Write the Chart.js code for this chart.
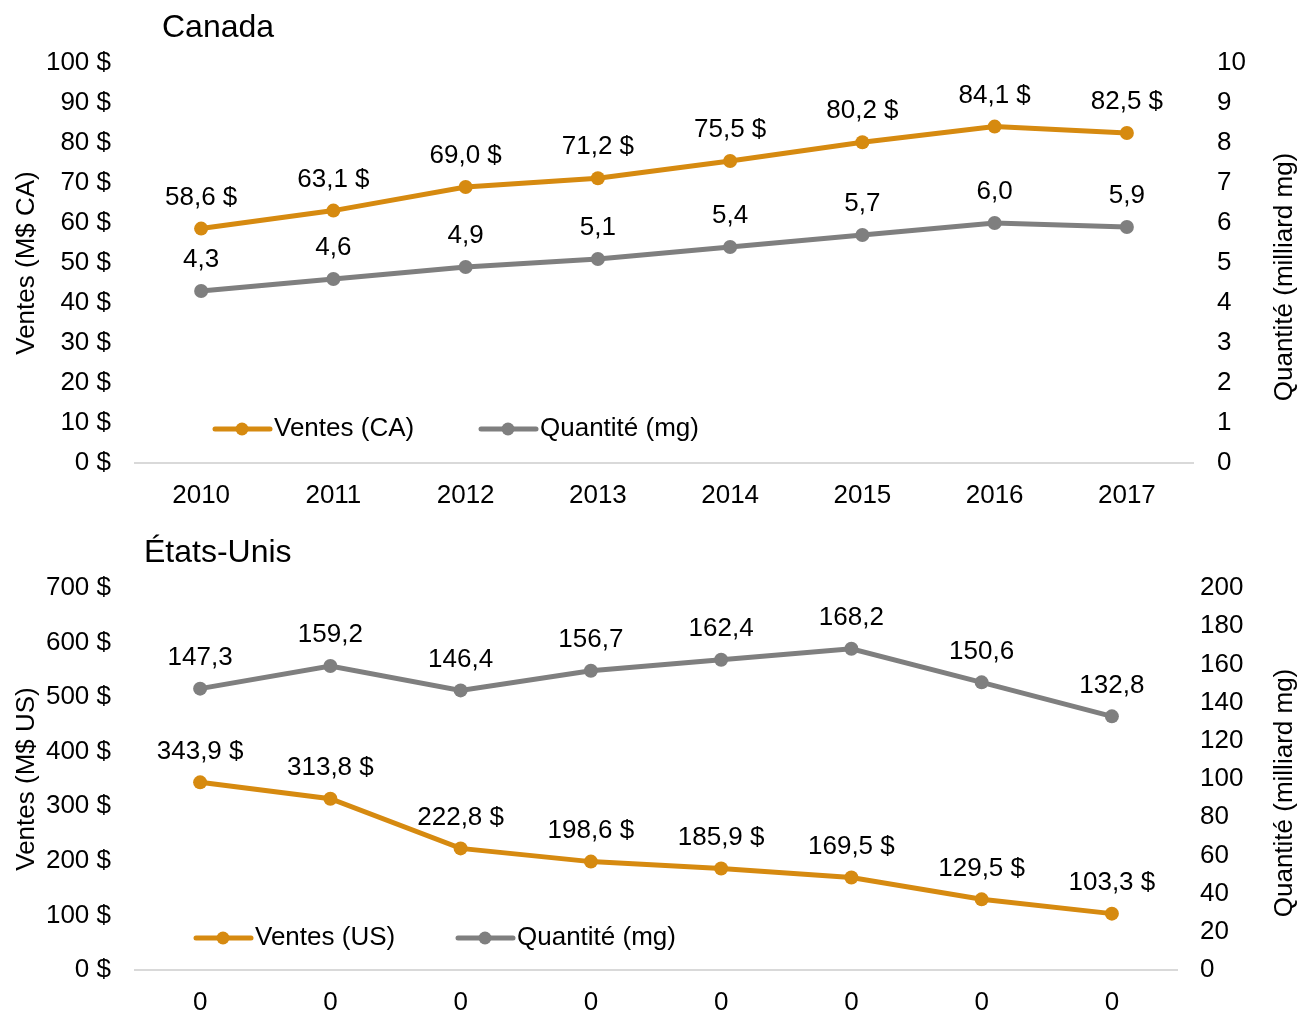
<!DOCTYPE html>
<html><head><meta charset="utf-8">
<script src="https://cdn.jsdelivr.net/npm/chart.js@4.4.0/dist/chart.umd.min.js"></script>
<style>
html,body{margin:0;padding:0;background:#fff;overflow:hidden;}
#top{position:absolute;left:0;top:0;width:1301px;height:520px;}
#bot{position:absolute;left:0;top:520px;width:1301px;height:494px;}
</style></head><body>
<div id="top"><canvas id="c1"></canvas></div>
<div id="bot"><canvas id="c2"></canvas></div>
<script>
// ---- data ----
const years = ['2010','2011','2012','2013','2014','2015','2016','2017'];
const caSales = [58.6, 63.1, 69.0, 71.2, 75.5, 80.2, 84.1, 82.5];
const caQty = [4.3, 4.6, 4.9, 5.1, 5.4, 5.7, 6.0, 5.9];
const usLabels = ['0','0','0','0','0','0','0','0'];
const usSales = [343.9, 313.8, 222.8, 198.6, 185.9, 169.5, 129.5, 103.3];
const usQty = [147.3, 159.2, 146.4, 156.7, 162.4, 168.2, 150.6, 132.8];

const ORANGE = '#D68A10';
const GRAY = '#7F7F7F';
const FONT = '"Liberation Sans", Arial, sans-serif';
const FS = 26;

Chart.defaults.font.family = FONT;
Chart.defaults.font.size = FS;
Chart.defaults.color = '#000';

function fmt(v, cur) {
  return v.toFixed(1).replace('.', ',') + (cur ? ' $' : '');
}

function makeChart(id, cfg) {
  const overlay = {
    id: 'overlay',
    afterDatasetsDraw(chart) {
      const ctx = chart.ctx;
      const ca = chart.chartArea;
      ctx.save();
      // title
      ctx.fillStyle = '#000';
      ctx.font = '32px ' + FONT;
      ctx.textAlign = 'left';
      ctx.textBaseline = 'alphabetic';
      ctx.fillText(cfg.title, cfg.titleX, cfg.titleY);
      // axis titles
      ctx.font = FS + 'px ' + FONT;
      ctx.textAlign = 'center';
      ctx.textBaseline = 'middle';
      const cy = (ca.top + ca.bottom) / 2;
      ctx.save();
      ctx.translate(27, cy);
      ctx.rotate(-Math.PI / 2);
      ctx.fillText(cfg.leftTitle, 0, 0);
      ctx.restore();
      ctx.save();
      ctx.translate(1285, cy + 14);
      ctx.rotate(-Math.PI / 2);
      ctx.fillText(cfg.rightTitle, 0, 0);
      ctx.restore();
      // data labels
      chart.data.datasets.forEach((ds, i) => {
        const meta = chart.getDatasetMeta(i);
        meta.data.forEach((pt, j) => {
          ctx.fillText(fmt(ds.data[j], ds.cur), pt.x, pt.y - 31);
        });
      });
      // legend
      cfg.legend.forEach((it) => {
        const y = cfg.legendY;
        ctx.strokeStyle = it.color;
        ctx.lineWidth = 5;
        ctx.lineCap = 'round';
        ctx.beginPath();
        ctx.moveTo(it.x, y);
        ctx.lineTo(it.x + 55, y);
        ctx.stroke();
        ctx.fillStyle = it.color;
        ctx.beginPath();
        ctx.arc(it.x + 27, y, 6.5, 0, Math.PI * 2);
        ctx.fill();
        ctx.fillStyle = '#000';
        ctx.textAlign = 'left';
        ctx.fillText(it.text, it.x + 59, y);
      });
      ctx.restore();
    }
  };
  return new Chart(document.getElementById(id), {
    type: 'line',
    data: {
      labels: cfg.labels,
      datasets: [
        { label: cfg.legend[0].text, data: cfg.sales, cur: true, yAxisID: 'y',
          borderColor: ORANGE, backgroundColor: ORANGE, borderWidth: 5,
          pointRadius: 7, pointBackgroundColor: ORANGE, pointBorderWidth: 0, tension: 0 },
        { label: cfg.legend[1].text, data: cfg.qty, cur: false, yAxisID: 'y1',
          borderColor: GRAY, backgroundColor: GRAY, borderWidth: 5,
          pointRadius: 7, pointBackgroundColor: GRAY, pointBorderWidth: 0, tension: 0 }
      ]
    },
    options: {
      responsive: true,
      maintainAspectRatio: false,
      animation: false,
      layout: { padding: { top: cfg.padTop, left: 0, right: 0, bottom: 0 } },
      plugins: { legend: { display: false }, tooltip: { enabled: false }, title: { display: false } },
      scales: {
        x: {
          offset: true,
          grid: { display: false, drawTicks: false },
          border: { display: true, color: '#D9D9D9', width: 2 },
          ticks: { padding: 17, maxRotation: 0, autoSkip: false },
          afterFit(s) { s.height = cfg.xH; }
        },
        y: {
          position: 'left',
          min: 0, max: cfg.yMax,
          grid: { display: false, drawTicks: false },
          border: { display: false },
          ticks: { stepSize: cfg.yStep, padding: 24, callback: (v) => v + ' $' },
          afterFit(s) { s.width = 135; }
        },
        y1: {
          position: 'right',
          min: 0, max: cfg.y1Max,
          grid: { display: false, drawTicks: false },
          border: { display: false },
          ticks: { stepSize: cfg.y1Step, padding: cfg.rPad },
          afterFit(s) { s.width = cfg.rW; }
        }
      }
    },
    plugins: [overlay]
  });
}

makeChart('c1', {
  labels: years, sales: caSales, qty: caQty,
  title: 'Canada', titleX: 162, titleY: 37,
  leftTitle: 'Ventes (M$ CA)', rightTitle: 'Quantité (milliard mg)',
  legend: [ { text: 'Ventes (CA)', color: ORANGE, x: 215 }, { text: 'Quantité (mg)', color: GRAY, x: 481 } ],
  legendY: 429,
  padTop: 63, xH: 57, yMax: 100, yStep: 10, y1Max: 10, y1Step: 1, rW: 108, rPad: 24
});

makeChart('c2', {
  labels: usLabels, sales: usSales, qty: usQty,
  title: 'États-Unis', titleX: 144, titleY: 42,
  leftTitle: 'Ventes (M$ US)', rightTitle: 'Quantité (milliard mg)',
  legend: [ { text: 'Ventes (US)', color: ORANGE, x: 196 }, { text: 'Quantité (mg)', color: GRAY, x: 458 } ],
  legendY: 418,
  padTop: 68, xH: 44, yMax: 700, yStep: 100, y1Max: 200, y1Step: 20, rW: 124, rPad: 23
});
</script>
</body></html>
